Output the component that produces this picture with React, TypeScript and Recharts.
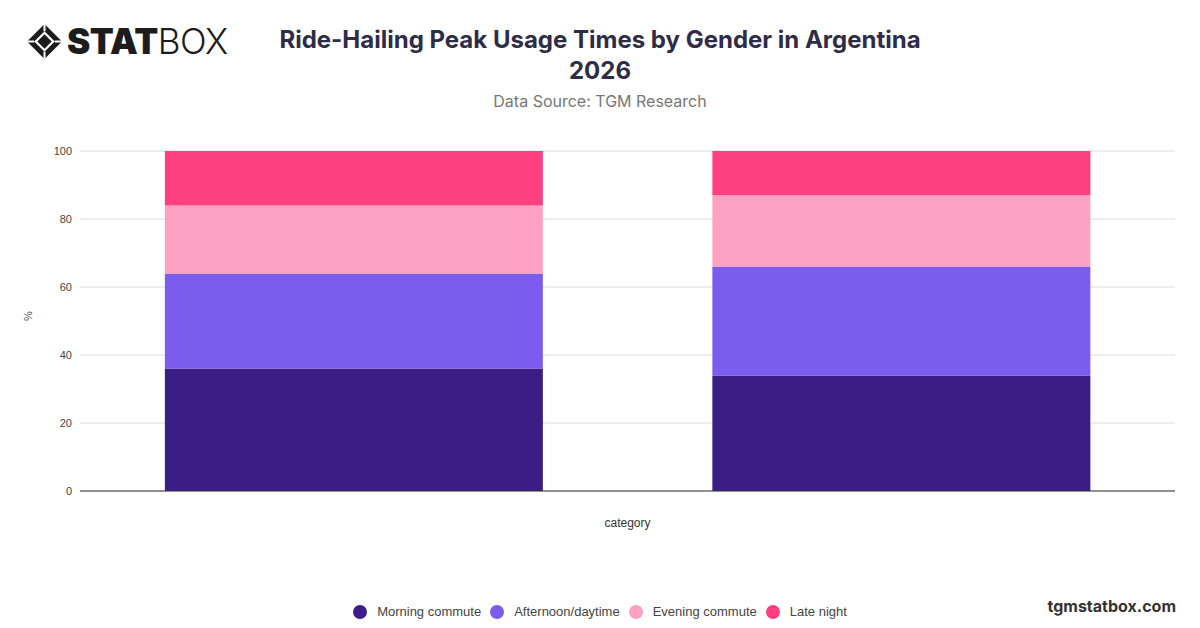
import { BarChart, Bar, XAxis, YAxis, CartesianGrid } from "recharts";

const categories = ["Male", "Female"];
const morningCommute = [36, 34];
const afternoonDaytime = [28, 32];
const eveningCommute = [20, 21];
const lateNight = [16, 13];
const yTicks = [0, 20, 40, 60, 80, 100];

const series = [
  { key: "morning", name: "Morning commute", color: "#3a1d85" },
  { key: "afternoon", name: "Afternoon/daytime", color: "#7b5ced" },
  { key: "evening", name: "Evening commute", color: "#fca1c2" },
  { key: "late", name: "Late night", color: "#fe3f80" },
];

const data = categories.map((c, i) => ({
  category: c,
  morning: morningCommute[i],
  afternoon: afternoonDaytime[i],
  evening: eveningCommute[i],
  late: lateNight[i],
}));

const font = "Inter, 'Noto Sans', Arial, sans-serif";
const axisFont = "'Liberation Sans', Arial, Helvetica, sans-serif";

function LegendRow() {
  return (
    <div
      style={{
        position: "absolute",
        left: 0,
        width: 1200,
        top: 604,
        display: "flex",
        justifyContent: "center",
        gap: 9,
        fontFamily: axisFont,
        fontSize: 13,
        color: "#444",
      }}
    >
      {series.map((s) => (
        <div key={s.key} style={{ display: "flex", alignItems: "center", gap: 10 }}>
          <span style={{ width: 14, height: 14, borderRadius: "50%", background: s.color, display: "inline-block" }} />
          {s.name}
        </div>
      ))}
    </div>
  );
}

function Logo() {
  return (
    <div style={{ position: "absolute", left: 26, top: 20, display: "flex", alignItems: "center" }}>
      <svg width={37} height={37} viewBox="0 0 36 36">
        <path d="M18 1 L35 18 L18 35 L1 18 Z" fill="#1c1c1c" />
        <path d="M18 8 L28 18 L18 28 L8 18 Z" fill="#fff" />
        <path d="M18 11 L25 18 L18 25 L11 18 Z" fill="#1c1c1c" />
        <path d="M18 1 L18 8 M35 18 L28 18 M18 35 L18 28 M1 18 L8 18" stroke="#fff" strokeWidth={2} />
      </svg>
      <span style={{ fontFamily: font, fontWeight: 900, fontSize: 35, color: "#1c1c1c", marginLeft: 4, letterSpacing: -0.5 }}>STAT</span>
      <span style={{ fontFamily: font, fontWeight: 300, fontSize: 35, color: "#1c1c1c", letterSpacing: -0.5 }}>BOX</span>
    </div>
  );
}

export default function App() {
  return (
    <div style={{ position: "fixed", left: 0, top: 0, width: 1200, height: 628, background: "#fff", overflow: "hidden" }}>
      <Logo />
      <div style={{ position: "absolute", left: 200, width: 800, top: 24, textAlign: "center", fontFamily: font, fontWeight: 700, fontSize: 24, lineHeight: "31px", color: "#2e2c47" }}>
        Ride-Hailing Peak Usage Times by Gender in Argentina
        <br />
        2026
      </div>
      <div style={{ position: "absolute", left: 200, width: 800, top: 91, textAlign: "center", fontFamily: font, fontSize: 16, color: "#777" }}>
        Data Source: TGM Research
      </div>
      <div style={{ position: "absolute", right: 24, top: 596, fontFamily: font, fontWeight: 700, fontSize: 16, color: "#333" }}>
        tgmstatbox.com
      </div>
      <div style={{ position: "absolute", left: 0, top: 0 }}>
        <BarChart
          width={1200}
          height={628}
          data={data}
          margin={{ top: 151, right: 25, bottom: 0, left: 20 }}
          barCategoryGap="15.5%"
        >
          <CartesianGrid vertical={false} stroke="#dddddd" />
          <XAxis
            dataKey="category"
            tick={false}
            tickLine={false}
            axisLine={{ stroke: "#333" }}
            height={137}
            label={{ value: "category", position: "insideTop", offset: 27, fill: "#333", fontSize: 12, fontFamily: axisFont }}
          />
          <YAxis
            domain={[0, 100]}
            ticks={yTicks}
            width={60}
            tickLine={false}
            axisLine={false}
            tick={{ fill: "#444", fontSize: 11, fontFamily: axisFont }}
            label={{ value: "%", angle: -90, position: "insideLeft", offset: 8, fill: "#555", fontSize: 11, fontFamily: axisFont }}
          />
          {series.map((s) => (
            <Bar key={s.key} dataKey={s.key} name={s.name} stackId="a" fill={s.color} isAnimationActive={false} />
          ))}
        </BarChart>
      </div>
      <LegendRow />
    </div>
  );
}
